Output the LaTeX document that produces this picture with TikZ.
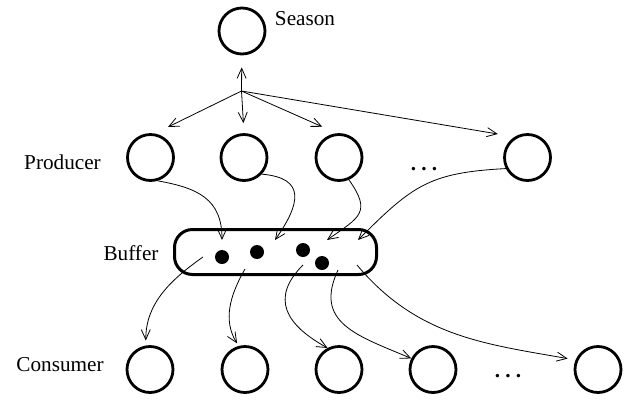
\documentclass[tikz,border=0pt]{standalone}
\usepackage{fontspec}
\setmainfont{Liberation Serif}
\usepackage{tikz}
\usetikzlibrary{arrows.meta}
\tikzset{proc/.style={circle, draw, line width=1.4pt, minimum size=23pt, inner sep=0pt}}
\tikzset{item/.style={circle, fill=black, minimum size=7pt, inner sep=0pt}}
\tikzset{flow/.style={-{Straight Barb[length=5pt,width=4.5pt]}, line width=0.4pt}}
\tikzset{tag/.style={inner sep=0pt, font=\fontsize{10.6}{12}\selectfont}}
\newcommand{\spreaddots}{\bfseries.\kern2.6pt.\kern2.6pt.}

\begin{document}
\begin{tikzpicture}[x=0.5pt, y=0.5pt]
      \useasboundingbox (0,0) rectangle (636,404);

      \node[proc] (s) at (242,373) {};
      \node[tag] (ls) at (305,385.5) {Season};

      \node[proc] (p1) at (150.5,246.5) {};
      \node[proc] (p2) at (244,246.5) {};
      \node[proc] (p3) at (339,246.5) {};
      \node[proc] (p4) at (527.5,246.5) {};
      \node[tag] (lp) at (62.5,242) {Producer};
      \node[tag, anchor=base] (dp) at (424,234) {\spreaddots};

      \node[draw, line width=1.5pt, rounded corners=9pt, minimum width=101pt,
        minimum height=22.5pt, inner sep=0pt] (b) at (275.5,152) {};
      \node[tag] (lb) at (131,151) {Buffer};
      \node[item] (d1) at (222,147) {};
      \node[item] (d2) at (257,152) {};
      \node[item] (d3) at (303,154) {};
      \node[item] (d4) at (322,141) {};

      \node[proc] (c1) at (150,34.5) {};
      \node[proc] (c2) at (245,34.5) {};
      \node[proc] (c3) at (339,34.5) {};
      \node[proc] (c4) at (433,34.5) {};
      \node[proc] (c5) at (598,34.5) {};
      \node[tag] (lc) at (60,39) {Consumer};
      \node[tag, anchor=base] (dc) at (508,27) {\spreaddots};

      % fan out of the season
      \coordinate (h) at (241.5,313);
      \draw[flow, shorten >=6pt] (h) -- (s);
      \draw[flow, shorten >=7.4pt] (h) -- (p1.80);
      \draw[flow, shorten >=5pt] (h) -- (p2.north);
      \draw[flow, shorten >=8pt] (h) -- (p3.95);
      \draw[flow, shorten >=8.5pt] (h) -- (p4.122);

      % into the buffer
      \coordinate (in1) at (222,164);
      \coordinate (in2) at (275,164);
      \coordinate (in3) at (327,164);
      \coordinate (in4) at (358,164);
      \draw[flow] (p1.-73) to[out=-10, in=90, looseness=1.2] (in1);
      \draw[flow] (p2.-43) to[out=-5, in=55, looseness=1.7] (in2);
      \draw[flow] (p3.-66) to[out=-55, in=35, looseness=1.6] (in3);
      \draw[flow] (p4.207) to[out=183, in=45, looseness=1.2] (in4);

      % out of the buffer
      \coordinate (o1) at (203,147);
      \coordinate (o2) at (245,135);
      \coordinate (o3) at (303,139);
      \coordinate (o4) at (338,134);
      \coordinate (o5) at (357,139);
      \draw[flow, shorten >=2.5pt] (o1) to[out=-145, in=90] (c1.100);
      \draw[flow, shorten >=1.5pt] (o2) to[out=-120, in=122] (c2.105);
      \draw[flow] (o3) to[out=-135, in=151, looseness=1.4] (c3.118);
      \draw[flow] (o4) to[out=-115, in=157, looseness=1.3] (c4.153);
      \draw[flow, shorten >=4pt] (o5) to[out=-50, in=170] (c5.157);
    \end{tikzpicture}
\end{document}
